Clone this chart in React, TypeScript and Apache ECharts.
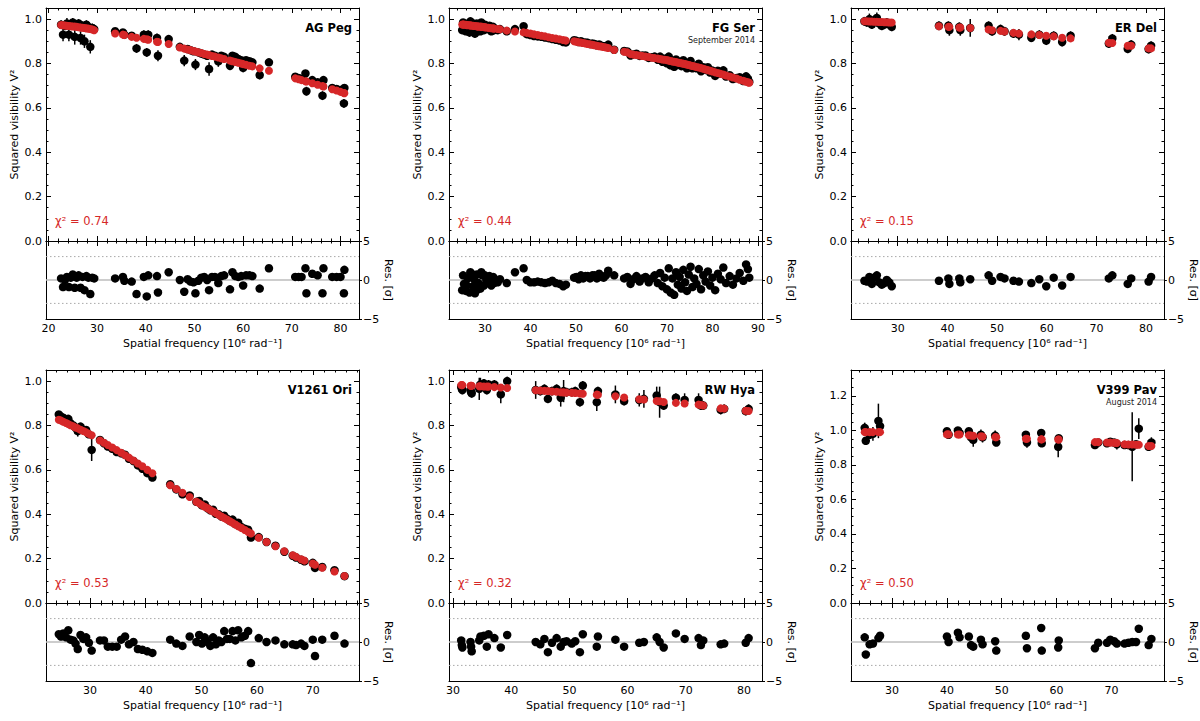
import React, { useEffect, useRef } from "react";
import * as echarts from "echarts";

// ---- AG Peg ----
const agPegFreq = [22.6, 23.0, 23.4, 23.8, 24.2, 24.6, 25.0, 25.4, 25.8, 26.2, 26.6, 27.0, 27.4, 27.8, 28.2, 28.6, 29.0, 29.4,
  33.7, 35.3, 35.6, 37.1, 38.1, 39.6, 40.2, 40.5, 42.3, 42.5, 44.7,
  47.0, 47.9, 48.6, 49.2, 49.8, 50.2, 50.8, 51.4, 52.0, 52.6, 53.0, 53.6, 54.2, 54.9, 55.5, 56.1, 57.3, 57.8, 58.4, 59.0, 59.6, 60.0, 60.6, 61.3, 61.9, 63.4, 65.3,
  70.7, 71.4, 72.0, 72.8, 73.0, 74.2, 75.3, 76.3, 76.5, 78.3, 79.2, 80.0, 80.7, 80.8];
const agPegV2 = [0.975, 0.93, 0.97, 0.98, 0.93, 0.975, 0.985, 0.92, 0.97, 0.98, 0.915, 0.97, 0.90, 0.975, 0.965, 0.875, 0.96, 0.955,
  0.945, 0.94, 0.93, 0.925, 0.868, 0.93, 0.85, 0.93, 0.915, 0.835, 0.91,
  0.875, 0.813, 0.865, 0.86, 0.855, 0.795, 0.85, 0.845, 0.84, 0.835, 0.775, 0.84, 0.835, 0.81, 0.835, 0.83, 0.79, 0.835, 0.83, 0.82, 0.815, 0.78, 0.815, 0.81, 0.805, 0.748, 0.805,
  0.74, 0.735, 0.73, 0.755, 0.675, 0.725, 0.715, 0.655, 0.725, 0.69, 0.685, 0.68, 0.62, 0.69];
const agPegErr = [0.02, 0.03, 0.02, 0.025, 0.03, 0.02, 0.02, 0.035, 0.02, 0.02, 0.03, 0.02, 0.03, 0.02, 0.02, 0.03, 0.02, 0.02,
  0.015, 0.015, 0.02, 0.015, 0.02, 0.02, 0.02, 0.02, 0.02, 0.025, 0.015,
  0.01, 0.025, 0.015, 0.015, 0.015, 0.025, 0.015, 0.015, 0.015, 0.015, 0.03, 0.015, 0.015, 0.025, 0.015, 0.015, 0.02, 0.015, 0.015, 0.015, 0.015, 0.02, 0.015, 0.015, 0.015, 0.02, 0.015,
  0.015, 0.015, 0.015, 0.015, 0.02, 0.015, 0.015, 0.02, 0.015, 0.015, 0.015, 0.015, 0.02, 0.015];
const agPegModel = [0.973, 0.972, 0.971, 0.970, 0.969, 0.968, 0.967, 0.966, 0.965, 0.963, 0.962, 0.961, 0.960, 0.958, 0.957, 0.955, 0.953, 0.950,
  0.935, 0.930, 0.928, 0.920, 0.916, 0.911, 0.909, 0.907, 0.898, 0.897, 0.888,
  0.872, 0.867, 0.863, 0.860, 0.856, 0.854, 0.850, 0.847, 0.843, 0.840, 0.838, 0.834, 0.831, 0.827, 0.823, 0.820, 0.813, 0.810, 0.807, 0.803, 0.800, 0.797, 0.794, 0.790, 0.787, 0.778, 0.767,
  0.733, 0.729, 0.725, 0.720, 0.719, 0.711, 0.704, 0.698, 0.696, 0.684, 0.678, 0.672, 0.667, 0.666];
const agPegRes = [0.2, -0.9, 0.0, 0.4, -0.9, 0.3, 0.7, -1.0, 0.3, 0.6, -1.0, 0.4, -1.3, 0.5, 0.3, -1.8, 0.3, 0.2,
  0.2, 0.4, -0.1, -0.2, -1.8, 0.4, -2.1, 0.6, 0.5, -1.6, 1.0,
  0.0, -1.5, 0.1, -0.2, -0.3, -1.7, -0.1, 0.3, 0.4, 0.0, -1.3, 0.4, 0.4, -0.4, 0.5, 0.6, -1.2, 1.0, 0.5, 0.4, 0.5, -0.7, 0.6, 0.6, 0.5, -1.1, 1.5,
  0.4, 0.4, 0.4, 1.5, -1.7, 0.8, 0.6, -1.7, 1.5, 0.4, 0.4, 0.4, -1.7, 1.3];

// ---- FG Ser ----
const fgSerFreq = [25.0, 25.4, 25.8, 26.2, 26.6, 27.0, 27.4, 27.8, 28.2, 28.6, 29.0, 29.4, 29.8, 30.3, 30.8, 31.4, 32.0, 32.8,
  25.2, 26.0, 26.8, 27.6, 28.4, 29.2, 30.0, 31.0, 31.8, 33.3,
  34.8, 36.6, 38.5,
  39.2, 40.0, 40.8, 41.6, 42.4, 43.2, 44.0, 44.8, 45.6, 46.4, 47.2, 47.8,
  49.6, 50.1, 50.6, 51.1, 51.6, 52.1, 52.6, 53.1, 53.6, 54.1, 54.6, 55.1, 55.6, 56.1, 56.6, 57.1,
  58.4, 60.6, 61.3,
  62.0, 62.6, 63.3, 64.0, 64.6, 65.3, 66.0, 66.7, 67.3, 68.0, 68.5, 69.0, 69.5, 70.0, 70.4, 70.8, 71.2, 71.6, 72.0, 72.4,
  72.8, 73.2, 73.6, 74.0, 74.4, 74.8, 75.2, 75.6, 76.0, 76.5, 77.0, 77.5, 78.0, 78.5, 79.0, 79.5, 80.0, 80.6, 81.2, 81.8,
  82.4, 83.0, 83.8, 84.5, 85.3, 86.0, 86.8, 87.4, 87.8, 88.1];
const fgSerV2 = [0.950, 0.965, 0.945, 0.975, 0.940, 0.985, 0.955, 0.935, 0.980, 0.960, 0.945, 0.975, 0.950, 0.960, 0.955, 0.945, 0.950, 0.950,
  0.985, 0.960, 0.990, 0.970, 0.945, 0.985, 0.975, 0.970, 0.965, 0.955,
  0.945, 0.955, 0.968,
  0.932, 0.928, 0.924, 0.922, 0.920, 0.917, 0.914, 0.910, 0.907, 0.903, 0.897, 0.895,
  0.905, 0.902, 0.897, 0.900, 0.894, 0.895, 0.893, 0.888, 0.890, 0.888, 0.882, 0.886, 0.880, 0.878, 0.878, 0.885,
  0.862, 0.856, 0.854,
  0.836, 0.841, 0.844, 0.834, 0.836, 0.836, 0.825, 0.828, 0.831, 0.817, 0.831, 0.808, 0.821, 0.801, 0.831, 0.792, 0.811, 0.785, 0.818, 0.797,
  0.807, 0.788, 0.815, 0.793, 0.778, 0.801, 0.811, 0.778, 0.789, 0.778, 0.799, 0.765, 0.783, 0.771, 0.783, 0.759, 0.768, 0.744, 0.767, 0.754,
  0.769, 0.741, 0.747, 0.730, 0.734, 0.738, 0.721, 0.742, 0.732, 0.717];
const fgSerErr = [0.015, 0.015, 0.015, 0.015, 0.02, 0.015, 0.015, 0.02, 0.015, 0.015, 0.015, 0.015, 0.015, 0.012, 0.012, 0.012, 0.012, 0.012,
  0.015, 0.015, 0.015, 0.015, 0.015, 0.015, 0.012, 0.012, 0.012, 0.012,
  0.01, 0.01, 0.012,
  0.01, 0.01, 0.01, 0.01, 0.01, 0.01, 0.01, 0.01, 0.01, 0.01, 0.01, 0.01,
  0.01, 0.01, 0.01, 0.01, 0.01, 0.01, 0.01, 0.01, 0.01, 0.01, 0.01, 0.01, 0.01, 0.01, 0.01, 0.01,
  0.01, 0.01, 0.01,
  0.012, 0.012, 0.012, 0.012, 0.012, 0.012, 0.012, 0.012, 0.012, 0.012, 0.012, 0.012, 0.012, 0.012, 0.012, 0.012, 0.012, 0.012, 0.012, 0.012,
  0.012, 0.012, 0.012, 0.012, 0.012, 0.012, 0.012, 0.012, 0.012, 0.012, 0.012, 0.012, 0.012, 0.012, 0.012, 0.012, 0.012, 0.012, 0.012, 0.012,
  0.012, 0.012, 0.012, 0.012, 0.012, 0.012, 0.012, 0.012, 0.012, 0.012];
const fgSerModel = [0.976, 0.975, 0.974, 0.973, 0.972, 0.971, 0.970, 0.969, 0.968, 0.967, 0.966, 0.965, 0.964, 0.962, 0.961, 0.959, 0.957, 0.955,
  0.975, 0.973, 0.971, 0.969, 0.967, 0.965, 0.963, 0.960, 0.958, 0.954,
  0.948, 0.944, 0.940,
  0.938, 0.935, 0.931, 0.928, 0.925, 0.922, 0.918, 0.915, 0.912, 0.909, 0.906, 0.903,
  0.900, 0.898, 0.896, 0.894, 0.892, 0.890, 0.888, 0.886, 0.884, 0.882, 0.880, 0.878, 0.876, 0.874, 0.872, 0.870,
  0.861, 0.853, 0.850,
  0.842, 0.840, 0.838, 0.836, 0.834, 0.831, 0.829, 0.826, 0.824, 0.822, 0.820, 0.818, 0.817, 0.815, 0.813, 0.811, 0.809, 0.808, 0.806, 0.804,
  0.802, 0.801, 0.799, 0.797, 0.795, 0.793, 0.791, 0.789, 0.787, 0.784, 0.782, 0.779, 0.776, 0.773, 0.770, 0.767, 0.764, 0.760, 0.757, 0.753,
  0.750, 0.746, 0.741, 0.737, 0.732, 0.727, 0.722, 0.718, 0.715, 0.713];
const fgSerRes = [-1.3, -0.5, -1.4, 0.2, -1.6, 0.8, -0.8, -1.7, 0.7, -0.4, -1.1, 0.6, -0.7, 0.0, -0.3, -0.7, -0.4, -0.3,
  0.6, -0.7, 1.0, 0.1, -1.2, 1.0, 0.6, 0.5, 0.4, 0.1,
  -0.4, 1.0, 1.5,
  0.0, -0.3, -0.3, -0.2, -0.3, -0.4, -0.3, -0.1, -0.4, -0.5, -0.8, -0.6,
  0.3, 0.4, 0.1, 0.6, 0.2, 0.5, 0.5, 0.2, 0.6, 0.6, 0.2, 0.8, 0.4, 0.3, 0.6, 1.2,
  0.6, 0.2, 0.4,
  -0.5, 0.1, 0.5, -0.2, 0.2, 0.4, -0.3, 0.2, 0.6, -0.4, 0.9, -0.8, 0.3, -1.2, 1.5, -1.6, 0.2, -1.9, 1.0, -0.6,
  0.4, -1.1, 1.3, -0.3, -1.4, 0.7, 1.7, -0.9, 0.2, -0.5, 1.4, -1.2, 0.6, -0.2, 1.1, -0.7, 0.3, -1.3, 0.8, 0.1,
  1.6, -0.4, 0.5, -0.6, 0.2, 0.9, -0.1, 2.0, 1.4, 0.3];

// ---- ER Del ----
const erDelFreq = [23.3, 23.8, 24.3, 24.8, 25.3, 25.8, 26.3, 26.8, 27.3, 27.8, 28.3, 28.8,
  38.3, 40.2, 40.4, 42.4, 42.6, 44.6, 48.3, 49.0, 50.7, 51.5, 53.3, 54.4, 56.9, 58.5, 59.9, 61.4, 63.1, 64.8, 72.5, 73.2, 76.3, 77.0, 80.5, 81.0];
const erDelV2 = [0.99, 0.985, 1.0, 0.975, 0.995, 1.005, 0.98, 0.97, 0.975, 0.985, 0.975, 0.965,
  0.97, 0.97, 0.95, 0.965, 0.95, 0.96, 0.97, 0.945, 0.955, 0.945, 0.935, 0.93, 0.916, 0.93, 0.903, 0.925, 0.897, 0.925, 0.89, 0.913, 0.866, 0.885, 0.865, 0.88];
const erDelErr = [0.02, 0.02, 0.025, 0.02, 0.02, 0.025, 0.025, 0.02, 0.02, 0.02, 0.02, 0.02,
  0.02, 0.02, 0.025, 0.02, 0.025, 0.04, 0.02, 0.02, 0.02, 0.02, 0.02, 0.025, 0.02, 0.02, 0.02, 0.02, 0.02, 0.02, 0.02, 0.02, 0.02, 0.02, 0.02, 0.02];
const erDelModel = [0.990, 0.990, 0.989, 0.989, 0.988, 0.988, 0.987, 0.987, 0.986, 0.986, 0.985, 0.985,
  0.968, 0.965, 0.965, 0.962, 0.962, 0.960, 0.953, 0.950, 0.947, 0.944, 0.938, 0.935, 0.931, 0.928, 0.925, 0.922, 0.916, 0.913, 0.893, 0.892, 0.880, 0.880, 0.868, 0.868];
const erDelRes = [-0.1, -0.2, 0.4, -0.5, 0.3, 0.6, -0.3, -0.6, -0.4, 0.0, -0.3, -0.8,
  -0.1, 0.2, -0.5, 0.2, -0.3, 0.1, 0.6, -0.1, 0.4, 0.2, -0.1, -0.2, -0.4, 0.1, -0.8, 0.3, -0.7, 0.4, 0.2, 0.6, -0.5, 0.2, -0.2, 0.4];

// ---- V1261 Ori ----
const v1261Freq = [24.4, 24.8, 25.2, 25.7, 26.1, 26.5, 27.0, 27.4, 27.8, 28.3, 28.8, 29.3, 29.8, 30.3,
  31.8, 32.5, 33.2, 34.0, 34.8, 35.6, 36.3, 37.0, 37.8, 38.6, 39.4, 40.3, 41.2,
  44.4, 45.5, 46.6, 47.9,
  49.1, 49.6, 50.1, 50.6, 51.1, 51.6, 52.1, 52.6, 53.1, 53.6, 54.1, 54.6, 55.1, 55.6, 56.1, 56.6, 57.2, 57.8, 58.4, 58.9,
  60.3, 61.7, 63.3, 64.9, 66.4, 67.0, 67.9, 68.5, 70.0, 70.4, 71.7, 73.9, 75.7];
const v1261V2 = [0.85, 0.84, 0.835, 0.825, 0.83, 0.81, 0.80, 0.79, 0.775, 0.795, 0.78, 0.78, 0.76, 0.69,
  0.735, 0.72, 0.705, 0.695, 0.68, 0.675, 0.668, 0.65, 0.64, 0.62, 0.605, 0.585, 0.565,
  0.535, 0.512, 0.49, 0.485,
  0.456, 0.46, 0.44, 0.444, 0.427, 0.418, 0.42, 0.402, 0.40, 0.39, 0.393, 0.38, 0.37, 0.376, 0.356, 0.362, 0.342, 0.335, 0.33, 0.295,
  0.297, 0.275, 0.258, 0.231, 0.213, 0.205, 0.195, 0.188, 0.181, 0.158, 0.162, 0.148, 0.121];
const v1261Err = [0.012, 0.01, 0.01, 0.01, 0.01, 0.012, 0.015, 0.02, 0.025, 0.012, 0.01, 0.015, 0.01, 0.05,
  0.008, 0.008, 0.008, 0.008, 0.008, 0.008, 0.008, 0.008, 0.008, 0.008, 0.008, 0.008, 0.008,
  0.008, 0.008, 0.008, 0.008,
  0.008, 0.008, 0.008, 0.008, 0.008, 0.008, 0.008, 0.008, 0.008, 0.008, 0.008, 0.008, 0.008, 0.008, 0.008, 0.008, 0.008, 0.008, 0.008, 0.008,
  0.008, 0.008, 0.008, 0.008, 0.008, 0.008, 0.008, 0.008, 0.008, 0.008, 0.008, 0.008, 0.008];
const v1261Model = [0.826, 0.822, 0.817, 0.811, 0.806, 0.801, 0.796, 0.791, 0.787, 0.781, 0.775, 0.769, 0.762, 0.756,
  0.732, 0.722, 0.712, 0.701, 0.689, 0.677, 0.666, 0.655, 0.642, 0.629, 0.616, 0.600, 0.585,
  0.531, 0.514, 0.497, 0.478,
  0.456, 0.449, 0.441, 0.434, 0.427, 0.419, 0.412, 0.405, 0.397, 0.390, 0.383, 0.376, 0.368, 0.361, 0.354, 0.346, 0.338, 0.329, 0.320, 0.313,
  0.294, 0.275, 0.256, 0.233, 0.215, 0.208, 0.197, 0.191, 0.178, 0.172, 0.159, 0.142, 0.122];
const v1261Res = [1.0, 0.7, 1.1, 0.6, 1.5, 0.3, 0.2, -0.2, -0.9, 0.9, 0.4, 0.6, -0.1, -1.1,
  0.2, 0.2, -0.6, -0.6, -0.6, 0.3, 0.7, -0.3, 0.0, -0.9, -1.0, -1.2, -1.4,
  0.3, -0.2, -0.5, 0.7,
  0.0, 0.9, -0.2, 0.6, 0.0, -0.5, 0.6, -0.3, 0.2, 0.0, 1.4, 0.4, 0.4, 1.4, 0.2, 1.5, 0.6, 0.8, 1.4, -2.7,
  0.5, 0.0, 0.2, -0.3, -0.3, -0.4, -0.2, -0.5, 0.3, -1.8, 0.3, 0.8, -0.2];

// ---- RW Hya ----
const rwHyaFreq = [31.4, 31.5, 31.6, 33.0, 33.1, 33.2, 34.5, 34.7, 35.3, 35.8, 36.1, 37.1, 38.2, 39.3, 44.2, 45.0, 45.7, 46.3, 47.0, 47.8,
  48.5, 49.0, 49.5, 50.4, 51.0, 51.8, 52.3, 54.7, 54.9, 57.9, 59.4, 62.0, 62.8, 65.0, 65.5, 66.2, 68.3, 69.8, 72.2, 72.6,
  73.0, 76.0, 76.6, 80.3, 80.8];
const rwHyaV2 = [0.975, 0.965, 0.96, 0.96, 0.95, 0.945, 0.965, 0.985, 0.99, 0.96, 0.985, 0.985, 0.94, 1.0, 0.96, 0.955, 0.965, 0.92, 0.955, 0.965,
  0.925, 0.955, 0.95, 0.95, 0.955, 0.905, 0.98, 0.905, 0.955, 0.94, 0.91, 0.915, 0.92, 0.935, 0.905, 0.89, 0.925, 0.915, 0.915, 0.89,
  0.89, 0.87, 0.875, 0.865, 0.875];
const rwHyaErr = [0.02, 0.02, 0.02, 0.02, 0.02, 0.02, 0.05, 0.03, 0.02, 0.02, 0.02, 0.02, 0.04, 0.02, 0.04, 0.02, 0.02, 0.02, 0.02, 0.02,
  0.04, 0.05, 0.02, 0.02, 0.02, 0.02, 0.02, 0.04, 0.02, 0.04, 0.02, 0.03, 0.04, 0.04, 0.07, 0.02, 0.02, 0.03, 0.03, 0.02,
  0.02, 0.02, 0.02, 0.02, 0.02];
const rwHyaModel = [0.982, 0.982, 0.982, 0.979, 0.979, 0.979, 0.977, 0.977, 0.976, 0.975, 0.975, 0.973, 0.971, 0.969, 0.959, 0.957, 0.956, 0.955, 0.953, 0.952,
  0.950, 0.949, 0.948, 0.947, 0.946, 0.944, 0.943, 0.939, 0.938, 0.932, 0.926, 0.918, 0.917, 0.910, 0.909, 0.906, 0.902, 0.899, 0.894, 0.892,
  0.890, 0.877, 0.876, 0.866, 0.865];
const rwHyaRes = [0.2, -0.4, -0.7, 0.0, -0.6, -1.2, 0.2, 0.7, 0.8, -0.6, 1.0, 0.5, -0.7, 0.9, 0.0, -0.3, 0.4, -1.3, -0.1, 0.5,
  -0.6, 0.0, 0.1, -0.2, 0.1, -1.3, 1.0, -0.6, 0.7, 0.3, -0.6, -0.1, 0.0, 0.6, 0.0, -0.7, 1.1, 0.4, 0.5, -0.4,
  0.2, -0.3, -0.2, -0.1, 0.5];

// ---- V399 Pav ----
const v399Freq = [25.0, 25.2, 25.9, 26.5, 27.5, 27.8, 40.0, 40.3, 42.0, 42.3, 44.0, 44.4, 44.8, 46.2, 46.5, 48.8, 49.0, 54.4,
  54.6, 57.2, 57.3, 60.3, 60.4, 67.0, 67.6, 69.2, 69.8, 70.5, 71.0, 72.4, 73.1, 73.8, 74.5, 75.0, 76.8, 77.3];
const v399V2 = [1.015, 0.94, 0.975, 0.98, 1.055, 1.025, 0.995, 0.975, 1.0, 0.985, 0.995, 0.96, 0.945, 0.975, 0.96, 0.97, 0.93, 0.975,
  0.93, 0.985, 0.925, 0.905, 0.955, 0.915, 0.93, 0.925, 0.935, 0.93, 0.92, 0.915, 0.915, 0.905, 0.92, 1.01, 0.905, 0.93];
const v399Err = [0.03, 0.02, 0.02, 0.04, 0.10, 0.03, 0.02, 0.02, 0.02, 0.02, 0.02, 0.03, 0.04, 0.03, 0.03, 0.03, 0.02, 0.02,
  0.03, 0.02, 0.02, 0.06, 0.02, 0.02, 0.02, 0.02, 0.02, 0.02, 0.03, 0.02, 0.02, 0.20, 0.02, 0.06, 0.02, 0.03];
const v399Model = [0.99, 0.99, 0.99, 0.99, 0.99, 0.99, 0.977, 0.977, 0.976, 0.976, 0.972, 0.970, 0.969, 0.966, 0.965, 0.961, 0.960, 0.952,
  0.952, 0.948, 0.948, 0.947, 0.947, 0.932, 0.932, 0.930, 0.929, 0.928, 0.927, 0.919, 0.918, 0.918, 0.917, 0.917, 0.910, 0.910];
const v399Res = [0.6, -1.6, -0.3, -0.2, 0.5, 0.8, 0.7, 0.0, 1.2, 0.6, 0.7, -0.4, -0.6, 0.3, -0.3, 0.1, -1.1, 0.8,
  -0.8, 1.8, -1.1, -0.7, 0.2, -0.8, -0.1, -0.1, 0.3, 0.1, -0.2, -0.2, -0.1, 0.0, 0.0, 1.7, -0.4, 0.4];

// ---- tick positions ----
const vTicks = [0, 0.2, 0.4, 0.6, 0.8, 1.0];
const vTicksTall = [0, 0.2, 0.4, 0.6, 0.8, 1.0, 1.2];
const vMinor = [0.05, 0.1, 0.15, 0.25, 0.3, 0.35, 0.45, 0.5, 0.55, 0.65, 0.7, 0.75, 0.85, 0.9, 0.95];
const vMinorTall = [0.05, 0.1, 0.15, 0.25, 0.3, 0.35, 0.45, 0.5, 0.55, 0.65, 0.7, 0.75, 0.85, 0.9, 0.95, 1.05, 1.1, 1.15, 1.25, 1.3];
const resTicks = [-5, 0, 5];
const freqTicks20to80 = [20, 30, 40, 50, 60, 70, 80];
const freqTicks30to90 = [30, 40, 50, 60, 70, 80, 90];
const freqTicks30to80 = [30, 40, 50, 60, 70, 80];
const freqTicks30to70 = [30, 40, 50, 60, 70];
const freqMinor20to82 = [22, 24, 26, 28, 32, 34, 36, 38, 42, 44, 46, 48, 52, 54, 56, 58, 62, 64, 66, 68, 72, 74, 76, 78, 82];
const freqMinor24to88 = [24, 26, 28, 32, 34, 36, 38, 42, 44, 46, 48, 52, 54, 56, 58, 62, 64, 66, 68, 72, 74, 76, 78, 82, 84, 86, 88];
const freqMinor22to82 = [22, 24, 26, 28, 32, 34, 36, 38, 42, 44, 46, 48, 52, 54, 56, 58, 62, 64, 66, 68, 72, 74, 76, 78, 82];
const freqMinor24to78 = [24, 26, 28, 32, 34, 36, 38, 42, 44, 46, 48, 52, 54, 56, 58, 62, 64, 66, 68, 72, 74, 76, 78];
const freqMinor32to82 = [32, 34, 36, 38, 42, 44, 46, 48, 52, 54, 56, 58, 62, 64, 66, 68, 72, 74, 76, 78, 82];

const panels = [
  { star: "AG Peg", epoch: "", chi2: "0.74", freq: agPegFreq, v2: agPegV2, err: agPegErr, model: agPegModel, res: agPegRes,
    xMin: 19.5, xMax: 83.8, yMax: 1.05, xMajor: freqTicks20to80, xMinor: freqMinor20to82, yMajor: vTicks, yMinor: vMinor },
  { star: "FG Ser", epoch: "September 2014", chi2: "0.44", freq: fgSerFreq, v2: fgSerV2, err: fgSerErr, model: fgSerModel, res: fgSerRes,
    xMin: 22.1, xMax: 90.9, yMax: 1.05, xMajor: freqTicks30to90, xMinor: freqMinor24to88, yMajor: vTicks, yMinor: vMinor },
  { star: "ER Del", epoch: "", chi2: "0.15", freq: erDelFreq, v2: erDelV2, err: erDelErr, model: erDelModel, res: erDelRes,
    xMin: 20.6, xMax: 83.6, yMax: 1.05, xMajor: freqTicks30to80, xMinor: freqMinor22to82, yMajor: vTicks, yMinor: vMinor },
  { star: "V1261 Ori", epoch: "", chi2: "0.53", freq: v1261Freq, v2: v1261V2, err: v1261Err, model: v1261Model, res: v1261Res,
    xMin: 22.1, xMax: 78.3, yMax: 1.05, xMajor: freqTicks30to70, xMinor: freqMinor24to78, yMajor: vTicks, yMinor: vMinor },
  { star: "RW Hya", epoch: "", chi2: "0.32", freq: rwHyaFreq, v2: rwHyaV2, err: rwHyaErr, model: rwHyaModel, res: rwHyaRes,
    xMin: 29.3, xMax: 83.1, yMax: 1.05, xMajor: freqTicks30to80, xMinor: freqMinor32to82, yMajor: vTicks, yMinor: vMinor },
  { star: "V399 Pav", epoch: "August 2014", chi2: "0.50", freq: v399Freq, v2: v399V2, err: v399Err, model: v399Model, res: v399Res,
    xMin: 22.5, xMax: 79.6, yMax: 1.35, xMajor: freqTicks30to70, xMinor: freqMinor24to78, yMajor: vTicksTall, yMinor: vMinorTall },
];

const INK = "#000";
const RED = "#d62728";
const FONT = "DejaVu Sans";
const colLeft = [46, 449, 851];
const colWidth = 313;
const rowTop = [8, 370];
const mainHeight = 233;
const resHeight = 78;

const lineOn = { show: true, onZero: false, lineStyle: { color: INK, width: 1 } };
const lineOff = { show: false, onZero: false };
const noTick = { show: false };
const noLabel = { show: false };
const tick = (values: number[], length: number, inside = true) => ({
  show: true, inside, length, customValues: values, lineStyle: { color: INK, width: 1 },
});
const labelStyle = { fontFamily: FONT, fontSize: 11, color: INK };
const minus = (v: number) => (v < 0 ? "\u2212" + Math.abs(v) : String(v));

function buildOption() {
  const grid: any[] = [];
  const xAxis: any[] = [];
  const yAxis: any[] = [];
  const series: any[] = [];
  const graphic: any[] = [];

  panels.forEach((p, k) => {
    const left = colLeft[k % 3];
    const top = rowTop[Math.floor(k / 3)];
    const resTop = top + mainHeight;

    // one x and one y axis per grid, so indexes line up
    const addGrid = (gTop: number, height: number, x: any, y: any) => {
      const idx = grid.length;
      grid.push({ left, top: gTop, width: colWidth, height });
      xAxis.push({ type: "value", gridIndex: idx, min: p.xMin, max: p.xMax, splitLine: { show: false }, axisLabel: noLabel, ...x });
      yAxis.push({ type: "value", gridIndex: idx, splitLine: { show: false }, axisLabel: noLabel, ...y });
      return idx;
    };
    const vRange = { min: 0, max: p.yMax };
    const rRange = { min: -5, max: 5 };

    // main panel: data grid + tick grids
    const gMain = addGrid(top, mainHeight,
      { position: "bottom", axisLine: lineOn, axisTick: tick(p.xMajor, 5) },
      { ...vRange, position: "left", axisLine: lineOn, axisTick: tick(p.yMajor, 5),
        axisLabel: { ...labelStyle, show: true, margin: 4, customValues: p.yMajor, formatter: (v: number) => v.toFixed(1) },
        name: "Squared visibility V\u00b2", nameLocation: "middle", nameGap: 26, nameTextStyle: labelStyle });
    addGrid(top, mainHeight,
      { position: "bottom", axisLine: lineOff, axisTick: tick(p.xMinor, 2.5) },
      { ...vRange, position: "left", axisLine: lineOff, axisTick: tick(p.yMinor, 2.5) });
    addGrid(top, mainHeight,
      { position: "top", axisLine: lineOn, axisTick: tick(p.xMajor, 5) },
      { ...vRange, position: "right", axisLine: lineOn, axisTick: tick(p.yMajor, 5) });
    addGrid(top, mainHeight,
      { position: "top", axisLine: lineOff, axisTick: tick(p.xMinor, 2.5) },
      { ...vRange, position: "right", axisLine: lineOff, axisTick: tick(p.yMinor, 2.5) });

    // residual panel
    const gRes = addGrid(resTop, resHeight,
      { position: "bottom", axisLine: lineOn, axisTick: noTick,
        axisLabel: { ...labelStyle, show: true, margin: 4, customValues: p.xMajor },
        name: "Spatial frequency [10\u2076 rad\u207b\u00b9]", nameLocation: "middle", nameGap: 19, nameTextStyle: labelStyle },
      { ...rRange, position: "left", axisLine: lineOn, axisTick: noTick });
    addGrid(resTop, resHeight,
      { position: "top", axisLine: lineOn, axisTick: tick(p.xMajor, 5) },
      { ...rRange, position: "right", axisLine: lineOn, axisTick: tick(resTicks, 3, false),
        axisLabel: { ...labelStyle, show: true, margin: 4, customValues: resTicks, formatter: minus },
        name: "Res. [\u03c3]", nameLocation: "middle", nameRotate: -90, nameGap: 14, nameTextStyle: labelStyle });
    addGrid(resTop, resHeight,
      { position: "top", axisLine: lineOff, axisTick: tick(p.xMinor, 2.5) },
      { ...rRange, show: false });

    const points = p.freq.map((f, i) => [f, p.v2[i], p.err[i]]);
    series.push({
      type: "custom", xAxisIndex: gMain, yAxisIndex: gMain, z: 2, clip: true,
      data: points, encode: { x: 0, y: 1 },
      renderItem: (_params: any, api: any) => {
        const lo = api.coord([api.value(0), api.value(1) - api.value(2)]);
        const hi = api.coord([api.value(0), api.value(1) + api.value(2)]);
        return { type: "line", shape: { x1: lo[0], y1: lo[1], x2: hi[0], y2: hi[1] }, style: { stroke: INK, lineWidth: 1.5 } };
      },
    });
    series.push({
      type: "scatter", xAxisIndex: gMain, yAxisIndex: gMain, z: 3, symbolSize: 8.5,
      itemStyle: { color: INK, opacity: 1 }, data: p.freq.map((f, i) => [f, p.v2[i]]),
    });
    series.push({
      type: "scatter", xAxisIndex: gMain, yAxisIndex: gMain, z: 4, symbolSize: 8,
      itemStyle: { color: RED, opacity: 1 }, data: p.freq.map((f, i) => [f, p.model[i]]),
    });

    // residual reference lines
    const refLine = (y: number, style: any) => ({
      type: "line", xAxisIndex: gRes, yAxisIndex: gRes, z: 1, showSymbol: false, silent: true,
      lineStyle: style, data: [[p.xMin, y], [p.xMax, y]],
    });
    series.push(refLine(0, { color: "#bdbdbd", width: 1.5 }));
    series.push(refLine(3, { color: "#a8a8a8", width: 1, type: [1.5, 2.5] }));
    series.push(refLine(-3, { color: "#a8a8a8", width: 1, type: [1.5, 2.5] }));
    series.push({
      type: "scatter", xAxisIndex: gRes, yAxisIndex: gRes, z: 3, symbolSize: 8.5,
      itemStyle: { color: INK, opacity: 1 }, data: p.freq.map((f, i) => [f, p.res[i]]),
    });

    const right = left + colWidth;
    graphic.push({
      type: "text", x: right - 7, y: top + 19.5,
      style: { text: p.star, fill: INK, font: `bold 11.5px "${FONT}"`, textAlign: "right", textVerticalAlign: "middle" },
    });
    if (p.epoch) {
      graphic.push({
        type: "text", x: right - 7, y: top + 32,
        style: { text: p.epoch, fill: "#222", font: `8px "${FONT}"`, textAlign: "right", textVerticalAlign: "middle" },
      });
    }
    graphic.push({
      type: "text", x: left + 9, y: top + 212.5,
      style: { text: "\u03c7\u00b2 = " + p.chi2, fill: RED, font: `11.5px "${FONT}"`, textAlign: "left", textVerticalAlign: "middle" },
    });
  });

  return { animation: false, backgroundColor: "#fff", textStyle: { fontFamily: FONT }, grid, xAxis, yAxis, series, graphic };
}

const App = () => {
  const chartRef = useRef<HTMLDivElement>(null);

  useEffect(() => {
    const chart = echarts.init(chartRef.current, undefined, { renderer: "svg" });
    chart.setOption(buildOption() as any);
    return () => {
      chart.dispose();
    };
  }, []);

  return <div ref={chartRef} style={{ position: "fixed", left: 0, top: 0, width: 1200, height: 721 }} />;
};

export default App;
